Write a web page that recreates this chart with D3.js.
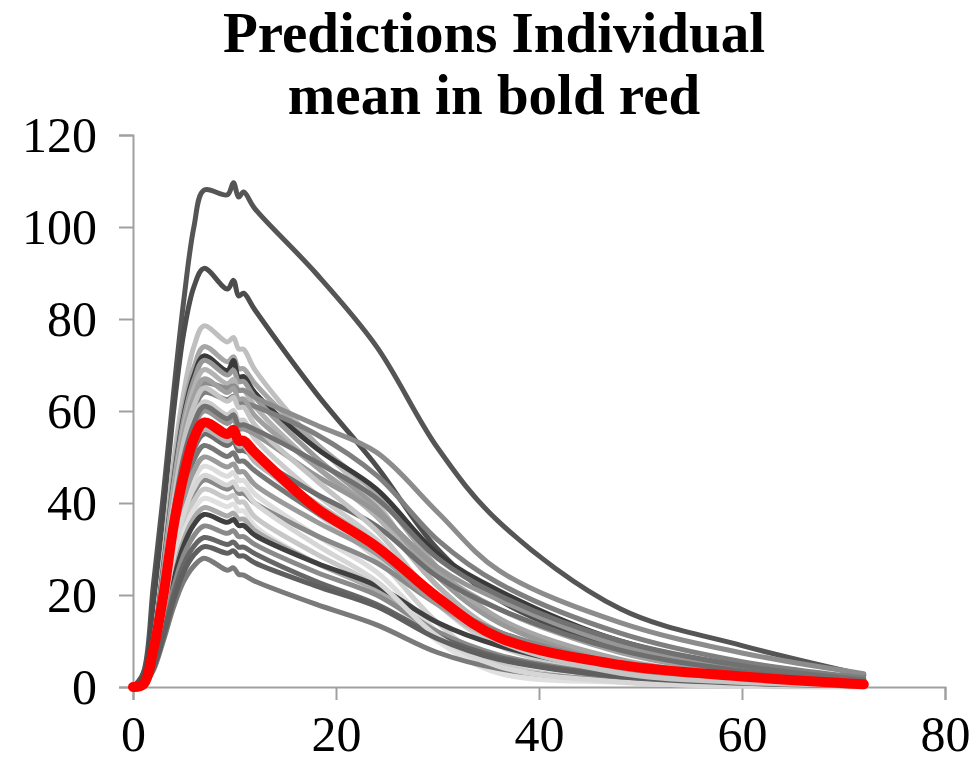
<!DOCTYPE html>
<html>
<head>
<meta charset="utf-8">
<script src="https://cdn.jsdelivr.net/npm/d3@7"></script>
<style>
  body { margin: 0; background: #fff; }
  svg { display: block; }
  text { font-family: "Liberation Serif", "Times New Roman", serif; fill: #000; }
</style>
</head>
<body>
<svg id="chart" width="975" height="763"></svg>
<script>
// sampling times (h)
var times = [0, 1, 2, 3, 4, 5, 6, 7, 9.3, 9.9, 10.4, 10.9, 12, 18, 24, 30, 36, 48, 60, 72];

// individual predicted profiles
var ind01 = [0, 3, 22, 42, 64, 84, 100, 108, 107, 109.6, 106.5, 107.6, 104, 90, 74, 52, 36, 17, 9, 2.6];
var ind02 = [0, 2, 18, 38, 60, 77, 87, 91, 86.5, 88.4, 85, 85.6, 82, 64, 48, 30, 19, 8.5, 4, 1.5];
var ind03 = [0, 0.8, 10, 28, 49, 64, 74, 78.5, 75, 76, 73.5, 73.4, 69, 53, 40, 22, 12, 4, 1.5, 0.4];
var ind04 = [0, 0.7, 9.5, 26.5, 46, 60.5, 69.5, 74, 70.7, 71.8, 69.2, 69.2, 66, 53, 42, 26, 15, 6, 2.5, 0.8];
var ind05 = [0, 0.7, 9.4, 26, 44.6, 59, 67.7, 72, 68.8, 71, 67.3, 67.5, 64, 52, 43, 29, 21, 10, 4.5, 1.5];
var ind06 = [0, 0.7, 9.2, 25.6, 44, 58.2, 66.7, 71, 67.8, 68.9, 66.4, 66.4, 63, 50, 39, 24, 14, 5, 2, 0.6];
var ind07 = [0, 0.7, 9, 24.8, 42.8, 56.6, 64.9, 69, 65.9, 66.9, 64.5, 64.5, 61, 48, 37, 22, 12, 4, 1.5, 0.4];
var ind08 = [0, 0.7, 8.6, 23.8, 41, 54, 62, 66, 65, 65.5, 64.5, 64.5, 63, 57, 51, 38, 25.4, 14, 7.4, 2.9];
var ind09 = [0, 0.6, 8.3, 23, 39.7, 52.5, 60.2, 64, 62.5, 63.2, 61.8, 61.8, 61, 55, 46, 32, 22.6, 11.7, 5.5, 2.0];
var ind10 = [0, 0.7, 8.7, 24.1, 41.5, 55, 63, 67, 64, 65, 62.6, 62.6, 59, 48, 38, 25, 17, 7.5, 3, 1];
var ind11 = [0, 0.6, 8.1, 22.3, 38.4, 50.8, 58.3, 62, 59.2, 60.1, 58, 58, 54, 42, 32, 18, 9, 2.5, 0.8, 0.2];
var ind12 = [0, 0.6, 7.8, 21.6, 37.2, 49.2, 56.4, 60, 57.3, 58.2, 56.1, 56.1, 55, 46, 38, 26, 19, 9, 4, 1.3];
var ind13 = [0, 0.6, 7.5, 20.9, 36, 47.6, 54.5, 58, 55.4, 56.3, 54.2, 54.2, 50, 38, 28, 14, 4.5, 1.5, 0.4, 0.1];
var ind14 = [0, 0.6, 7.2, 19.8, 34.1, 45.1, 51.7, 55, 52.5, 53.4, 51.4, 51.4, 50, 42, 35, 24, 17, 8, 3.5, 1.2];
var ind15 = [0, 0.5, 6.8, 18.9, 32.6, 43, 49.4, 52.5, 50.1, 50.9, 49.1, 49.1, 47, 38, 30, 19, 12, 5, 2, 0.6];
var ind16 = [0, 0.5, 6.2, 17.3, 29.8, 39.4, 45.1, 48, 45.8, 46.6, 44.9, 44.9, 42, 33, 25, 12, 3.5, 1.2, 0.3, 0.1];
var ind17 = [0, 0.5, 5.9, 16.2, 27.9, 36.9, 42.3, 45, 43, 43.7, 42.1, 42.1, 40, 33, 27, 18, 12, 5, 2, 0.6];
var ind18 = [0, 0.4, 5.6, 15.5, 26.7, 35.3, 40.4, 43, 41.1, 41.7, 40.2, 40.2, 37, 29, 22, 11, 5, 1.2, 0.3, 0.1];
var ind19 = [0, 0.4, 5.3, 14.8, 25.4, 33.6, 38.5, 41, 39.2, 39.8, 38.3, 38.3, 35, 27, 21, 10, 3, 1, 0.2, 0];
var ind20 = [0, 0.4, 5.1, 14, 24.2, 32, 36.7, 39, 37.2, 37.8, 36.5, 36.5, 34, 27, 21, 12, 6.5, 2, 0.6, 0.2];
var ind21 = [0, 0.4, 4.9, 13.5, 23.3, 30.8, 35.3, 37.5, 35.8, 36.4, 35.1, 35.1, 33, 27, 22, 14, 9, 3.5, 1.4, 0.4];
var ind22 = [0, 0.4, 4.6, 12.6, 21.7, 28.7, 32.9, 35, 33.4, 34, 32.7, 32.7, 31, 25, 20, 12, 7, 2.5, 0.9, 0.3];
var ind23 = [0, 0.3, 4.2, 11.7, 20.2, 26.7, 30.6, 32.5, 31, 31.5, 30.4, 30.4, 29, 23, 18, 11, 6.5, 2.4, 0.9, 0.3];
var ind24 = [0, 0.3, 3.6, 10.1, 17.4, 23, 26.3, 28, 25.4, 25.9, 24.5, 24.3, 23, 18, 13.5, 7.5, 4, 1.3, 0.4, 0.1];
var ind25 = [0, 0.6, 7.3, 20.2, 34.7, 45.9, 52.6, 56, 53.5, 54.3, 52.4, 52.4, 49, 40, 31, 18, 10, 3.5, 1.2, 0.3];
var ind26 = [0, 0.5, 6.5, 18, 31, 41, 47, 50, 47.8, 48.5, 46.8, 46.8, 44, 36, 29, 18, 11, 4.2, 1.6, 0.5];
var ind27 = [0, 0.5, 6, 16.6, 28.5, 37.7, 43.2, 46, 43.9, 44.6, 43, 43, 40, 31, 23, 11, 4.5, 1.1, 0.3, 0.1];
var ind28 = [0, 0.3, 4, 11, 18.9, 25, 28.7, 30.5, 29.1, 29.6, 28.5, 28.5, 27, 22, 17.5, 10.5, 6, 2.2, 0.8, 0.2];
var ind29 = [0, 0.7, 8.5, 23.4, 40.3, 53.3, 61.1, 65, 62.1, 63, 60.8, 60.8, 57, 45, 34, 19, 10, 3, 1, 0.3];
var ind30 = [0, 0.6, 7.9, 22, 37.8, 50, 57.3, 61, 58.3, 59.2, 57, 57, 56, 49, 41, 28, 20, 10, 4.6, 1.6];

// mean profile
var meanPred = [0, 0.5, 8, 20, 35, 46, 54, 57.5, 55, 55.9, 53.5, 53.5, 51, 39, 30.5, 19.5, 10.8, 4.8, 2.3, 0.6];

var individuals = [ind01, ind02, ind03, ind04, ind05, ind06, ind07, ind08, ind09, ind10,
                   ind11, ind12, ind13, ind14, ind15, ind16, ind17, ind18, ind19, ind20,
                   ind21, ind22, ind23, ind24, ind25, ind26, ind27, ind28, ind29, ind30];
var grays = ["#555555", "#4d4d4d", "#bfbfbf", "#a6a6a6", "#3a3a3a", "#999999", "#b3b3b3", "#8c8c8c", "#7f7f7f", "#a0a0a0",
             "#cccccc", "#969696", "#d0d0d0", "#6e6e6e", "#777777", "#dcdcdc", "#898989", "#c8c8c8", "#e0e0e0", "#aaaaaa",
             "#404040", "#8a8a8a", "#666666", "#7a7a7a", "#b5b5b5", "#9b9b9b", "#d6d6d6", "#5f5f5f", "#c4c4c4", "#717171"];

var xTicks = [0, 20, 40, 60, 80];
var yTicks = [0, 20, 40, 60, 80, 100, 120];

var svg = d3.select("#chart");

var xScale = d3.scaleLinear().domain([0, 80]).range([133, 945]);
var yScale = d3.scaleLinear().domain([0, 120]).range([687, 135]);

//title
var title = svg.append("text")
  .attr("x", 494)
  .attr("text-anchor", "middle")
  .style("font-weight", "bold")
  .style("font-size", "57px");
title.append("tspan").attr("x", 494).attr("y", 52).text("Predictions Individual");
title.append("tspan").attr("x", 494).attr("y", 114).text("mean in bold red");

//axes
var xAxis = d3.axisBottom(xScale).tickValues(xTicks).tickSize(13).tickPadding(15).tickFormat(d3.format("d"));
var yAxis = d3.axisLeft(yScale).tickValues(yTicks).tickSize(14).tickPadding(22).tickFormat(d3.format("d"));

var gx = svg.append("g").attr("transform", "translate(0,687)").call(xAxis);
var gy = svg.append("g").attr("transform", "translate(133,0)").call(yAxis);

[gx, gy].forEach(function(g){
  g.select(".domain").attr("stroke", "#a0a0a0").attr("stroke-width", 2);
  g.selectAll(".tick line").attr("stroke", "#a0a0a0").attr("stroke-width", 2);
  g.selectAll(".tick text")
    .style("font-family", "'Liberation Serif', 'Times New Roman', serif")
    .style("font-size", "50px")
    .attr("fill", "#000");
});

//lines
var line = d3.line()
  .x(function(d){ return xScale(d.t); })
  .y(function(d){ return yScale(d.v); })
  .curve(d3.curveCatmullRom);

function toPoints(values){
  return values.map(function(v, i){ return {t: times[i], v: v}; });
}

var plot = svg.append("g");

individuals.forEach(function(vals, i){
  plot.append("path")
    .attr("d", line(toPoints(vals)))
    .attr("fill", "none")
    .attr("stroke", grays[i])
    .attr("stroke-width", 5)
    .attr("stroke-linejoin", "round")
    .attr("stroke-linecap", "round");
});

plot.append("path")
  .attr("d", line(toPoints(meanPred)))
  .attr("fill", "none")
  .attr("stroke", "#ff0000")
  .attr("stroke-width", 10)
  .attr("stroke-linejoin", "round")
  .attr("stroke-linecap", "round");
</script>
</body>
</html>
